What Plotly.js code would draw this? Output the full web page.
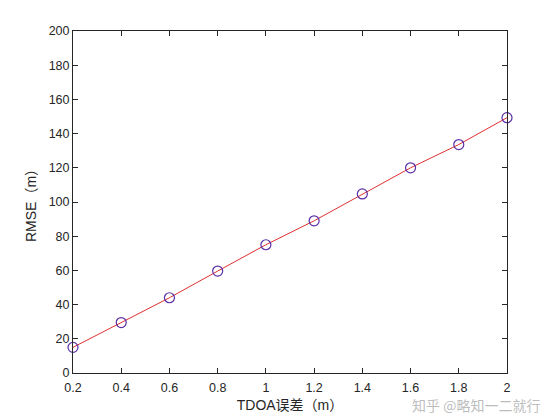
<!DOCTYPE html>
<html>
<head>
<meta charset="utf-8">
<script src="https://cdn.plot.ly/plotly-3.0.1.min.js"></script>
<style>html,body{margin:0;padding:0;background:#fff;}#chart{width:560px;height:420px;}</style>
</head>
<body>
<div id="chart"></div>
<script>
const tdoaError = [0.2, 0.4, 0.6, 0.8, 1.0, 1.2, 1.4, 1.6, 1.8, 2.0];
const rmse = [15, 29.5, 44, 59.6, 75, 89, 104.7, 120, 133.6, 149.3];
const xTickVals = [0.2, 0.4, 0.6, 0.8, 1, 1.2, 1.4, 1.6, 1.8, 2];
const xTickText = ["0.2", "0.4", "0.6", "0.8", "1", "1.2", "1.4", "1.6", "1.8", "2"];
const yTickVals = [0, 20, 40, 60, 80, 100, 120, 140, 160, 180, 200];

const font = "Liberation Sans, Arial, Noto Sans CJK SC, sans-serif";

const traces = [
  {
    x: tdoaError, y: rmse, type: "scatter", mode: "lines",
    line: {color: "#e03030", width: 1},
    hoverinfo: "skip", showlegend: false
  },
  {
    x: tdoaError, y: rmse, type: "scatter", mode: "markers",
    marker: {symbol: "circle-open", size: 10, color: "#5a2ea6", line: {width: 1.2, color: "#5a2ea6"}},
    showlegend: false, cliponaxis: false
  }
];

const layout = {
  width: 560, height: 420,
  margin: {l: 73, r: 53, t: 31, b: 47},
  paper_bgcolor: "#ffffff", plot_bgcolor: "#ffffff",
  font: {family: font, size: 11, color: "#262626"},
  showlegend: false,
  xaxis: {
    range: [0.2, 2], tickvals: xTickVals, ticktext: xTickText,
    ticks: "inside", ticklen: 5, tickwidth: 1, tickcolor: "#262626",
    showline: true, linecolor: "#262626", linewidth: 1, mirror: "ticks",
    showgrid: false, zeroline: false, ticklabelstandoff: 3,
    tickfont: {family: font, size: 12.5, color: "#262626"},
    title: {text: "TDOA误差（m）", font: {family: font, size: 14, color: "#262626"}, standoff: 6}
  },
  yaxis: {
    range: [0, 200], tickvals: yTickVals,
    ticks: "inside", ticklen: 5, tickwidth: 1, tickcolor: "#262626",
    showline: true, linecolor: "#262626", linewidth: 1, mirror: "ticks",
    showgrid: false, zeroline: false,
    tickfont: {family: font, size: 12.5, color: "#262626"},
    title: {text: "RMSE（m）", font: {family: font, size: 14, color: "#262626"}, standoff: 8}
  },
  annotations: [
    {
      text: "知乎 @略知一二就行", xref: "paper", yref: "paper",
      x: 1.08, y: -0.095, xanchor: "right", yanchor: "middle", showarrow: false,
      font: {family: "Noto Sans CJK SC, sans-serif", size: 14, color: "rgba(160,160,160,0.7)"}
    }
  ]
};

Plotly.newPlot("chart", traces, layout, {displayModeBar: false, staticPlot: true});
</script>
</body>
</html>
